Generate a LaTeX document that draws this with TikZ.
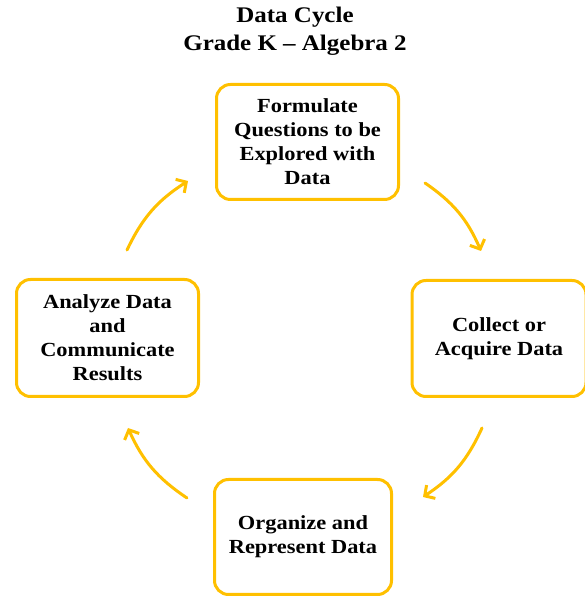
\documentclass[tikz,border=0pt]{standalone}
\usepackage{fontspec}
\setmainfont{Liberation Serif}[FakeStretch=1.12]
\usepackage{tikz}
\usetikzlibrary{arrows.meta}
\definecolor{cyclegold}{HTML}{FFC000}

\begin{document}
\begin{tikzpicture}[x=1pt, y=1pt,
    stage/.style={draw=cyclegold, line width=3pt, rounded corners=14pt, fill=white,
      align=center, inner sep=0pt, font=\fontsize{20}{24}\selectfont\bfseries},
    cyc/.style={draw=cyclegold, line width=3pt, line cap=round,
      -{Straight Barb[length=7.5pt, width=16pt]}}]
              \useasboundingbox (0,0) rectangle (584,596);
              % Titulo
              \node[align=center, font=\fontsize{22.3}{28}\selectfont\bfseries] (title) at (295,565)
                {Data Cycle\\Grade K -- Algebra 2};

              % Nodos
              \node[stage, minimum width=182pt, minimum height=115pt] (formulate) at (307.5,454)
                {Formulate\\Questions to be\\Explored with\\Data};
              \node[stage, minimum width=174pt, minimum height=116pt] (collect) at (499,257.5)
                {Collect or\\Acquire Data};
              \node[stage, minimum width=177pt, minimum height=115pt] (organize) at (303,59)
                {Organize and\\Represent Data};
              \node[stage, minimum width=182pt, minimum height=117pt] (analyze) at (107.5,258)
                {Analyze Data\\and\\Communicate\\Results};

              % Extremos de flechas
              \coordinate (fc1) at (425,413);
              \coordinate (fc2) at (481,345);
              \coordinate (co1) at (482,168);
              \coordinate (co2) at (423,99);
              \coordinate (oa1) at (187,98);
              \coordinate (oa2) at (128,168);
              \coordinate (af1) at (127,346);
              \coordinate (af2) at (188,415);

              % Flechas
              \draw[cyc] (fc1) to[bend left=16] (fc2);
              \draw[cyc] (co1) to[bend left=16] (co2);
              \draw[cyc] (oa1) to[bend left=16] (oa2);
              \draw[cyc] (af1) to[bend left=16] (af2);
            \end{tikzpicture}
\end{document}
